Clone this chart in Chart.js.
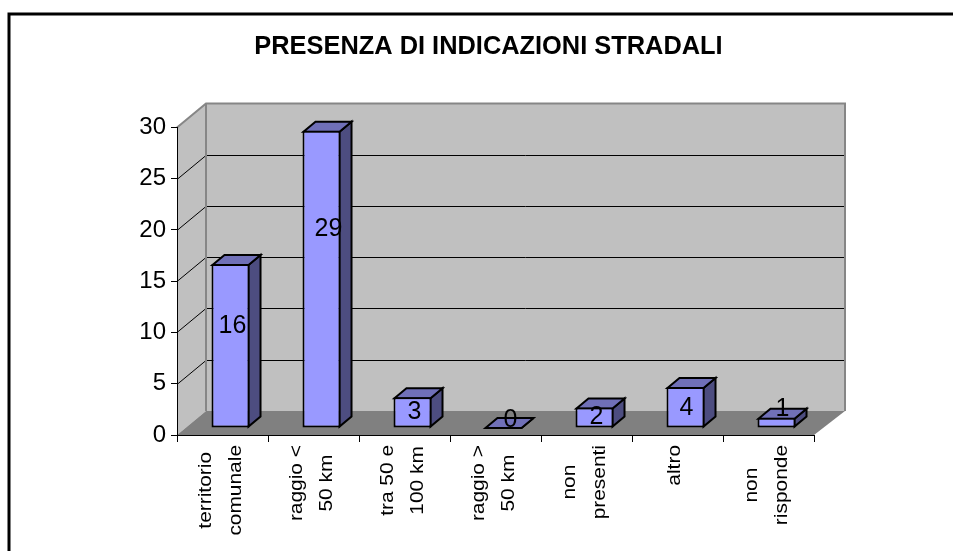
<!DOCTYPE html>
<html>
<head>
<meta charset="utf-8">
<title>Presenza di indicazioni stradali</title>
<script src="https://cdn.jsdelivr.net/npm/chart.js@4"></script>
<style>
    body { margin: 0; background: #fff; }
    canvas { display: block; }
</style>
</head>
<body>
<canvas id="chart" width="953" height="551"></canvas>
<script>
    var chartTitle = "PRESENZA DI INDICAZIONI STRADALI";
    var categories = [
        ["territorio", "comunale"],
        ["raggio <", "50 km"],
        ["tra 50 e", "100 km"],
        ["raggio >", "50 km"],
        ["non", "presenti"],
        ["altro"],
        ["non", "risponde"]
    ];
    var values = [16, 29, 3, 0, 2, 4, 1];
    var yTicks = [0, 5, 10, 15, 20, 25, 30];

    // the value labels sit by hand in the original, not on the bar centre
    var labelShiftX = [2, 7, 2, 7, 2, 1, 6];
    var labelShiftY = [-20, -50, 0, -8, 0, 1, -14];

    // pseudo 3D depth of the walls and of the bars
    var wallDx = 29, wallDxRight = 31, wallDy = -24;
    var barOffX = 8, barOffY = -7;
    var barDx = 12, barDy = -10;

    function poly(ctx, pts, fill, stroke, width) {
        ctx.beginPath();
        ctx.moveTo(pts[0][0], pts[0][1]);
        for (var i = 1; i < pts.length; i++) ctx.lineTo(pts[i][0], pts[i][1]);
        ctx.closePath();
        if (fill) { ctx.fillStyle = fill; ctx.fill(); }
        if (stroke) { ctx.strokeStyle = stroke; ctx.lineWidth = width; ctx.lineJoin = "miter"; ctx.stroke(); }
    }

    var box3d = {
        id: "box3d",
        afterLayout: function (chart) {
            // title is centred a little right of the plot in the original
            chart.titleBlock.left = 163;
        },
        beforeDraw: function (chart) {
            var ctx = chart.ctx, y = chart.scales.y, a = chart.chartArea;
            var l = a.left, r = a.right, t = a.top, b = a.bottom;
            var backL = l + wallDx, backR = r + wallDxRight, backT = t + wallDy, backB = b + wallDy;

            ctx.save();
            // outer frame, only left and top show in the picture
            ctx.strokeStyle = "#000";
            ctx.lineWidth = 3;
            ctx.beginPath();
            ctx.moveTo(9, 560);
            ctx.lineTo(9, 14);
            ctx.lineTo(960, 14);
            ctx.stroke();

            // side wall, back wall, floor
            poly(ctx, [[l, t], [backL, backT], [backL, backB], [l, b]], "#c0c0c0");
            poly(ctx, [[backL, backT], [backR, backT], [backR, backB], [backL, backB]], "#c0c0c0");
            poly(ctx, [[l, b], [r, b], [backR, backB], [backL, backB]], "#808080");

            // gridlines on the walls
            ctx.strokeStyle = "#000";
            ctx.lineWidth = 1;
            yTicks.forEach(function (v) {
                if (v === 0 || v === 30) return;
                var py = Math.round(y.getPixelForValue(v)) + 0.5;
                ctx.beginPath();
                ctx.moveTo(l, py);
                ctx.lineTo(backL, py + wallDy);
                ctx.lineTo(backR, py + wallDy);
                ctx.stroke();
            });

            // grey edges of the walls
            ctx.strokeStyle = "#868686";
            ctx.lineWidth = 2;
            ctx.beginPath();
            ctx.moveTo(l, t);
            ctx.lineTo(backL, backT);
            ctx.lineTo(backR, backT);
            ctx.lineTo(backR, backB);
            ctx.moveTo(backL, backT);
            ctx.lineTo(backL, backB);
            ctx.stroke();
            ctx.restore();
        },
        beforeDatasetsDraw: function (chart) {
            var ctx = chart.ctx;
            ctx.save();
            ctx.translate(barOffX, barOffY);
            chart.getDatasetMeta(0).data.forEach(function (bar) {
                var x0 = bar.x - bar.width / 2 + 1, x1 = bar.x + bar.width / 2 - 1;
                var top = bar.y + 1, base = bar.base - 1;
                if (base < top) { top = bar.base; base = bar.base; }
                poly(ctx, [[x1, top], [x1 + barDx, top + barDy], [x1 + barDx, base + barDy], [x1, base]], "#4d4d80", "#000", 2);
                poly(ctx, [[x0, top], [x1, top], [x1 + barDx, top + barDy], [x0 + barDx, top + barDy]], "#7070b8", "#000", 2);
            });
        },
        afterDatasetsDraw: function (chart) {
            var ctx = chart.ctx;
            ctx.restore();

            // value labels
            ctx.save();
            ctx.fillStyle = "#000";
            ctx.font = "25px 'Liberation Sans'";
            ctx.textAlign = "center";
            ctx.textBaseline = "middle";
            chart.getDatasetMeta(0).data.forEach(function (bar, i) {
                var cy = (bar.y + bar.base) / 2 + barOffY;
                ctx.fillText(String(values[i]), bar.x + barOffX + labelShiftX[i], cy + labelShiftY[i]);
            });
            ctx.restore();

            // category labels, rotated with the lines centred on each other
            var xs = chart.scales.x;
            ctx.save();
            ctx.fillStyle = "#000";
            ctx.font = "19px 'Liberation Sans'";
            ctx.textAlign = "center";
            ctx.textBaseline = "middle";
            categories.forEach(function (lines, i) {
                var widest = 0;
                lines.forEach(function (s) { widest = Math.max(widest, ctx.measureText(s).width); });
                ctx.save();
                ctx.translate(xs.getPixelForValue(i) + (lines.length > 1 ? -16.5 : -3), xs.top + 10);
                ctx.rotate(-Math.PI / 2);
                ctx.scale(1.1, 1);
                lines.forEach(function (s, n) {
                    ctx.fillText(s, -widest / 2, n * 30);
                });
                ctx.restore();
            });
            ctx.restore();
        }
    };

    new Chart(document.getElementById("chart"), {
        type: "bar",
        plugins: [box3d],
        data: {
            labels: categories,
            datasets: [{
                data: values,
                backgroundColor: "#9999ff",
                borderColor: "#000",
                borderWidth: 2,
                borderSkipped: false,
                categoryPercentage: 0.418,
                barPercentage: 1
            }]
        },
        options: {
            responsive: false,
            animation: false,
            layout: { padding: { left: 0, right: 139, top: 0, bottom: 0 } },
            plugins: {
                legend: { display: false },
                tooltip: { enabled: false },
                title: {
                    display: true,
                    text: chartTitle,
                    color: "#000",
                    font: { family: "'Liberation Sans'", size: 25.4, weight: "bold" },
                    padding: { top: 32, bottom: 65 }
                }
            },
            scales: {
                x: {
                    ticks: { display: false },
                    grid: { drawOnChartArea: false, color: "#000", tickLength: 7 },
                    border: { color: "#000", width: 1 },
                    afterFit: function (s) { s.height = 116; }
                },
                y: {
                    min: 0,
                    max: 30,
                    ticks: {
                        stepSize: 5,
                        color: "#000",
                        padding: 5,
                        font: { family: "'Liberation Sans'", size: 24 }
                    },
                    grid: { drawOnChartArea: false, color: "#000", tickLength: 6 },
                    border: { color: "#000", width: 1 },
                    afterFit: function (s) { s.width = 177; }
                }
            }
        }
    });
</script>
</body>
</html>
